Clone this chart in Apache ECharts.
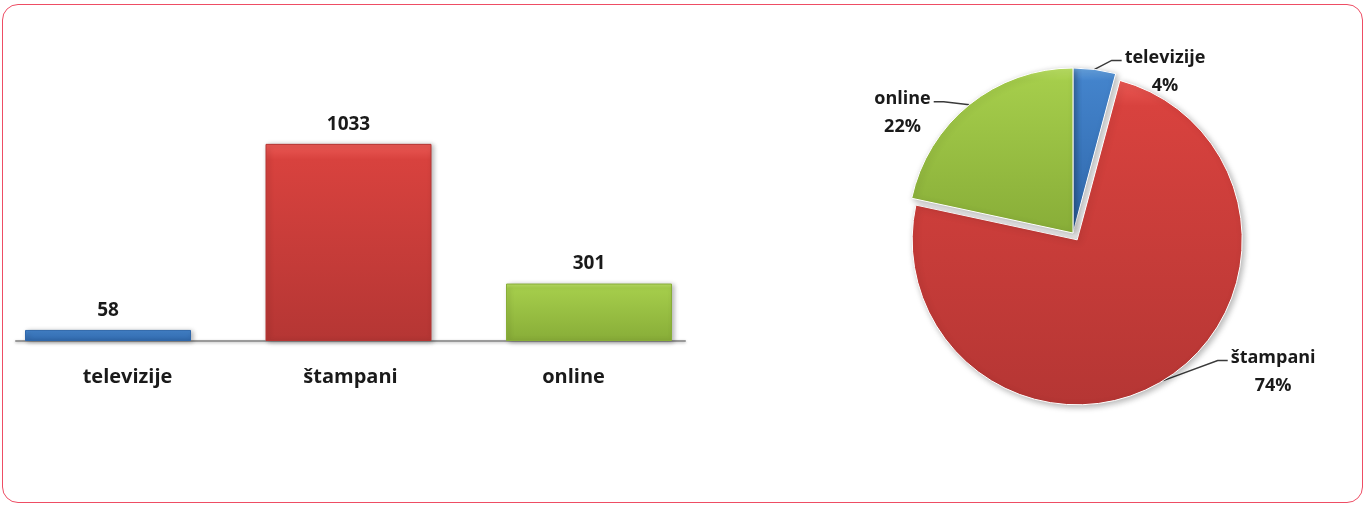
<!DOCTYPE html>
<html>
<head>
<meta charset="utf-8">
<script src="https://cdn.jsdelivr.net/npm/echarts@6/dist/echarts.min.js"></script>
<style>
  html, body { margin: 0; padding: 0; background: #fff; }
  #frame {
    position: absolute; left: 2px; top: 4px; width: 1359px; height: 497px;
    border: 1.5px solid #ee4d64; border-radius: 16px;
  }
  #chart { position: absolute; left: 0; top: 0; width: 1368px; height: 506px; }
</style>
</head>
<body>
<div id="frame"></div>
<div id="chart"></div>
<script>
// podaci
const categories = ['televizije', 'štampani', 'online'];
const counts = [58, 1033, 301];
const explodedSlice = 'štampani';

const fills = [
    ['#6aa6e2', '#4383cb', '#2f67aa'],
    ['#ec5a55', '#d8423e', '#b53634'],
    ['#bde267', '#a5cd4b', '#88ad38']
];

// pomjeranje natpisa na pie grafikonu (dx, dy)
const pieLabelNudge = [[3, 3], [40, -10], [-11, 9]];

function grad(c) {
    return new echarts.graphic.LinearGradient(0, 0, 0, 1, [
        { offset: 0, color: c[0] },
        { offset: 0.08, color: c[1] },
        { offset: 1, color: c[2] }
    ]);
}

const labelFont = { fontFamily: 'Open Sans', fontWeight: 'bold', color: '#1a1a1a' };

let myChart = echarts.init(document.getElementById('chart'));
myChart.setOption({
    animation: false,
    grid: [
        // stubici
        { left: 108, width: 481, top: 112, bottom: 165 },
        // osa i nazivi kategorija
        { left: 16, width: 669, top: 112, bottom: 165 }
    ],
    xAxis: [
        {
            type: 'category', gridIndex: 0, data: categories, boundaryGap: false,
            axisLine: { show: false }, axisTick: { show: false }, axisLabel: { show: false }
        },
        {
            type: 'category', gridIndex: 1, data: categories,
            axisLine: { lineStyle: { color: '#9a9a9a', width: 2, shadowColor: 'rgba(0,0,0,0.25)', shadowBlur: 3, shadowOffsetY: 1 } },
            axisTick: { show: false },
            axisLabel: { margin: 26, fontSize: 20, ...labelFont }
        }
    ],
    yAxis: [
        { type: 'value', gridIndex: 0, min: 0, max: 1200, show: false },
        { type: 'value', gridIndex: 1, min: 0, max: 1200, show: false }
    ],
    series: [
        {
            type: 'bar',
            xAxisIndex: 0, yAxisIndex: 0,
            barWidth: 166,
            clip: false,
            data: counts.map((v, i) => ({
                value: v,
                itemStyle: {
                    color: grad(fills[i]),
                    borderColor: fills[i][2],
                    borderWidth: 1,
                    shadowColor: 'rgba(0,0,0,0.3)',
                    shadowBlur: 5,
                    shadowOffsetX: 2,
                    shadowOffsetY: 1
                }
            })),
            label: { show: true, position: 'top', distance: 10, fontSize: 19, ...labelFont }
        },
        {
            type: 'pie',
            center: [1073, 233],
            radius: 165,
            startAngle: 90,
            clockwise: true,
            selectedMode: 'multiple',
            selectedOffset: 8,
            percentPrecision: 0,
            emphasis: { disabled: true },
            data: categories.map((name, i) => ({
                name: name,
                value: counts[i],
                selected: name === explodedSlice,
                itemStyle: {
                    color: grad(fills[i]),
                    borderColor: '#ffffff',
                    borderWidth: 1,
                    shadowColor: 'rgba(0,0,0,0.3)',
                    shadowBlur: 6,
                    shadowOffsetX: 2,
                    shadowOffsetY: 2
                }
            })),
            label: {
                show: true,
                position: 'outside',
                formatter: '{b}\n{d}%',
                fontSize: 18,
                lineHeight: 28,
                ...labelFont
            },
            labelLine: {
                show: true,
                length: 1,
                length2: 22,
                lineStyle: { color: '#3a3a3a', width: 1.5 }
            },
            labelLayout: function (p) {
                const r = p.labelRect;
                const w = r.width;
                const n = pieLabelNudge[p.dataIndex];
                const onRight = p.align !== 'right';
                const out = {
                    align: 'center',
                    dx: (onRight ? w / 2 : -w / 2) + n[0],
                    dy: n[1]
                };
                if (p.labelLinePoints) {
                    const start = p.labelLinePoints[0];
                    const ex = onRight ? r.x + n[0] - 3 : r.x + w + n[0] + 3;
                    const ey = r.y + n[1] + 17;
                    const bx = ex + (onRight ? -10 : 10);
                    out.labelLinePoints = [start, [bx, ey], [ex, ey]];
                }
                return out;
            }
        }
    ]
});
</script>
</body>
</html>
